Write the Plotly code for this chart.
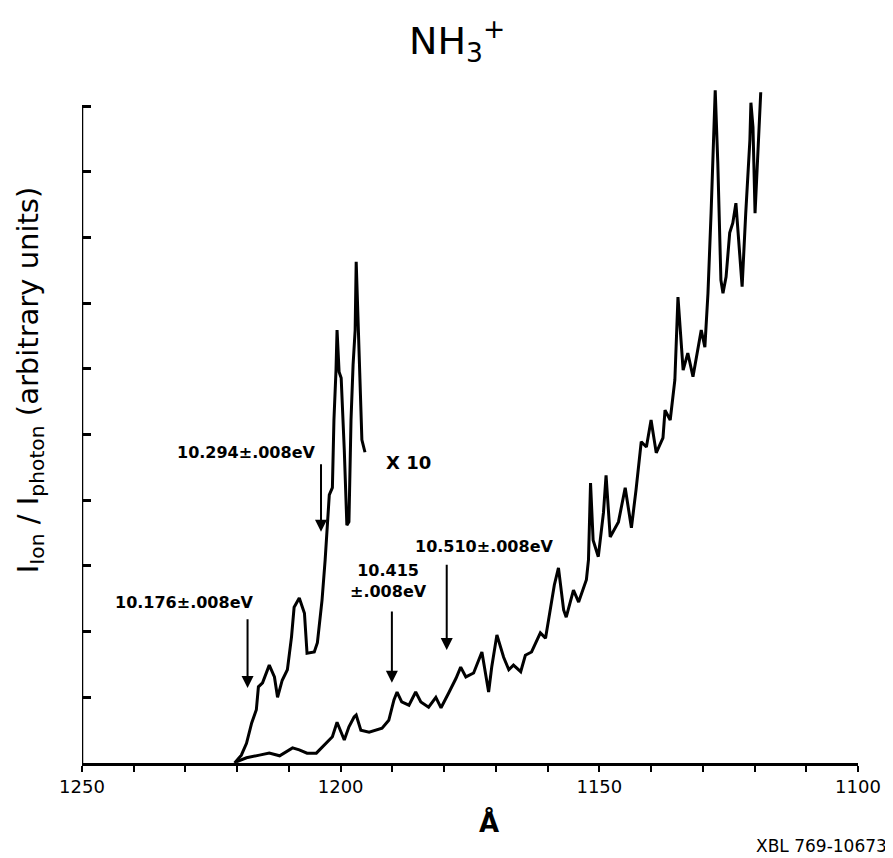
import plotly.graph_objects as go

# Upper trace (x10 scale), wavelength in Angstrom and relative intensity
upper_wl = [1220.5, 1219.2, 1218.2, 1217.2, 1216.3, 1215.9, 1215.1, 1213.8, 1212.8, 1212.2,
            1211.3, 1210.3, 1209.5, 1209.0, 1208.0, 1207.0, 1206.5, 1205.1, 1204.5, 1203.6,
            1203.0, 1202.6, 1202.2, 1201.6, 1201.3, 1200.9, 1200.7, 1200.3, 1199.9, 1199.3,
            1198.8, 1198.4, 1198.0, 1197.6, 1197.2, 1197.0, 1196.6, 1196.2, 1195.9, 1195.3]
upper_int = [0.0, 0.12, 0.30, 0.61, 0.81, 1.16, 1.22, 1.49, 1.31, 1.00,
             1.26, 1.42, 1.92, 2.37, 2.51, 2.28, 1.67, 1.69, 1.83, 2.48,
             3.09, 3.55, 4.08, 4.19, 5.22, 5.98, 6.59, 5.95, 5.86, 4.76,
             3.62, 3.67, 5.22, 6.06, 6.59, 7.63, 6.71, 5.83, 4.92, 4.73]

# Lower trace (x1 scale)
lower_wl = [1220.1, 1218.2, 1215.7, 1213.8, 1211.8, 1209.3, 1208.0, 1206.5, 1204.7, 1202.8,
            1201.6, 1200.7, 1199.3, 1198.4, 1197.4, 1197.0, 1196.1, 1194.5, 1192.0, 1190.7,
            1189.7, 1189.1, 1188.2, 1186.8, 1185.5, 1184.5, 1183.0, 1181.6, 1180.6, 1179.1,
            1177.7, 1176.8, 1175.8, 1174.3, 1172.7, 1171.4, 1170.8, 1169.8, 1168.5, 1167.5,
            1166.6, 1165.2, 1164.3, 1163.1, 1161.4, 1160.4, 1159.4, 1158.7, 1157.9, 1156.9,
            1156.4, 1155.0, 1154.0, 1152.5, 1152.1, 1151.7, 1151.2, 1150.2, 1149.2, 1148.7,
            1147.9, 1146.3, 1145.0, 1143.8, 1142.9, 1141.9, 1140.9, 1140.0, 1139.0, 1137.7,
            1137.3, 1136.3, 1135.4, 1134.8, 1133.8, 1132.9, 1131.9, 1130.9, 1130.3, 1129.6,
            1129.0, 1128.4, 1127.6, 1127.1, 1126.5, 1126.1, 1125.5, 1124.8, 1124.2, 1123.6,
            1122.8, 1122.4, 1121.7, 1120.9, 1120.7, 1120.3, 1119.9, 1119.6, 1119.0, 1118.8]
lower_int = [0.02, 0.08, 0.12, 0.15, 0.11, 0.23, 0.20, 0.15, 0.15, 0.30,
             0.40, 0.62, 0.35, 0.55, 0.70, 0.73, 0.50, 0.47, 0.53, 0.65,
             0.96, 1.08, 0.93, 0.88, 1.08, 0.93, 0.85, 1.00, 0.84, 1.07,
             1.29, 1.46, 1.31, 1.37, 1.69, 1.08, 1.46, 1.95, 1.61, 1.42,
             1.49, 1.39, 1.64, 1.69, 1.98, 1.90, 2.37, 2.71, 2.97, 2.33,
             2.22, 2.63, 2.45, 2.79, 3.09, 4.26, 3.39, 3.14, 3.81, 4.38,
             3.44, 3.67, 4.19, 3.58, 4.16, 4.89, 4.81, 5.22, 4.72, 4.95,
             5.37, 5.22, 5.83, 7.09, 5.98, 6.24, 5.88, 6.33, 6.59, 6.33,
             7.15, 8.37, 10.24, 9.13, 7.35, 7.15, 7.40, 8.07, 8.22, 8.52,
             7.76, 7.25, 8.37, 9.48, 10.05, 9.68, 8.37, 8.83, 9.79, 10.21]

x_tick_vals = list(range(1250, 1099, -10))
x_tick_labels = ["1250" if v == 1250 else "1200" if v == 1200 else "1150" if v == 1150
                 else "1100" if v == 1100 else "" for v in x_tick_vals]
y_tick_vals = list(range(0, 11))

# Onset annotations: label, arrow wavelength, arrow start, arrow tip
onset_labels = ["10.176±.008eV", "10.294±.008eV", "10.415<br>±.008eV", "10.510±.008eV"]
onset_wl = [1218.0, 1203.8, 1190.1, 1179.5]
onset_from = [2.21, 4.57, 2.33, 3.04]
onset_to = [1.14, 3.52, 1.22, 1.72]
label_wl = [1230.3, 1218.3, 1190.7, 1172.2]
label_y = [2.45, 4.73, 2.77, 3.29]

FONT = "DejaVu Sans"
fig = go.Figure()
fig.add_trace(go.Scatter(x=upper_wl, y=upper_int, mode="lines",
                         line=dict(color="black", width=3), showlegend=False))
fig.add_trace(go.Scatter(x=lower_wl, y=lower_int, mode="lines",
                         line=dict(color="black", width=3), showlegend=False))

for lab, wl, y0, y1, lx, ly in zip(onset_labels, onset_wl, onset_from, onset_to, label_wl, label_y):
    fig.add_annotation(x=wl, y=y1, ax=wl, ay=y0, xref="x", yref="y", axref="x", ayref="y",
                       text="", showarrow=True, arrowhead=2, arrowsize=1.2, arrowwidth=2,
                       arrowcolor="black")
    fig.add_annotation(x=lx, y=ly, xref="x", yref="y", text="<b>" + lab + "</b>",
                       showarrow=False, font=dict(family=FONT, size=16, color="black"),
                       xanchor="center", yanchor="middle")

fig.add_annotation(x=1186.8, y=4.57, xref="x", yref="y", text="<b>X 10</b>", showarrow=False,
                   font=dict(family=FONT, size=18, color="black"),
                   xanchor="center", yanchor="middle")

fig.add_annotation(x=0.483, y=1.063, xref="paper", yref="paper",
                   text="NH<sub>3</sub><sup>+</sup>", showarrow=False,
                   xanchor="center", yanchor="middle",
                   font=dict(family=FONT, size=38, color="black"))
fig.add_annotation(x=-0.0668, y=0.563, xref="paper", yref="paper", textangle=-90,
                   text="I<sub>Ion</sub> / I<sub>photon</sub> (arbitrary units)", showarrow=False,
                   xanchor="center", yanchor="middle",
                   font=dict(family=FONT, size=29, color="black"))
fig.add_annotation(x=0.525, y=-0.087, xref="paper", yref="paper", text="<b>Å</b>",
                   showarrow=False, xanchor="center", yanchor="middle",
                   font=dict(family=FONT, size=26, color="black"))
fig.add_annotation(x=1.040, y=-0.122, xref="paper", yref="paper", text="XBL 769-10673",
                   showarrow=False, xanchor="right", yanchor="middle",
                   font=dict(family=FONT, size=17, color="black"))

fig.add_shape(type="line", xref="x", yref="y", x0=1250, x1=1250, y0=0, y1=10,
              line=dict(color="black", width=2.5))

fig.update_layout(
    width=885, height=850,
    margin=dict(l=74, r=32, t=75, b=95),
    paper_bgcolor="white", plot_bgcolor="white",
    xaxis=dict(range=[1250, 1100], showgrid=False, zeroline=False, showline=True,
               linecolor="black", linewidth=2.5, ticks="outside", ticklen=6, tickwidth=2,
               tickcolor="black", tickvals=x_tick_vals, ticktext=x_tick_labels,
               tickfont=dict(family=FONT, size=18, color="black")),
    yaxis=dict(range=[0, 10.35], showgrid=False, zeroline=False, showline=False,
               ticks="inside", ticklen=9, tickwidth=2.5, tickcolor="black",
               tickvals=y_tick_vals, showticklabels=False),
)
fig.update_xaxes(tickprefix="<b>", ticksuffix="</b>")
fig.write_html("out.html")
